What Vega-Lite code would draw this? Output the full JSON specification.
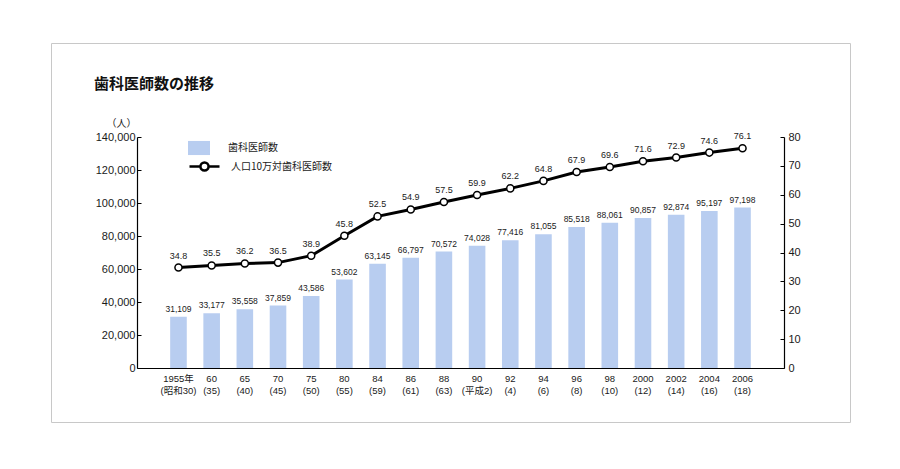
{
  "$schema": "https://vega.github.io/schema/vega-lite/v6.json",
  "width": 799,
  "height": 379,
  "autosize": {"type": "none"},
  "padding": {"left": 51, "top": 43, "right": 50, "bottom": 47},
  "background": "white",
  "config": {
    "view": {"stroke": "#c8c8c8", "strokeWidth": 1},
    "font": "Liberation Sans, Noto Sans CJK JP, sans-serif",
    "axis": {"labelColor": "#1a1a1a", "domainColor": "#000", "tickColor": "#000", "grid": false}
  },
  "title": {
    "text": "歯科医師数の推移",
    "anchor": "start",
    "frame": "group",
    "font": "Noto Sans CJK JP",
    "fontSize": 15,
    "fontWeight": "bold",
    "color": "#111",
    "baseline": "alphabetic",
    "offset": 0,
    "dx": 43,
    "dy": 61
  },
  "data": {
    "values": [
      {"label": "1955年|(昭和30)", "dentists": 31109, "rate": 34.8},
      {"label": "60|(35)", "dentists": 33177, "rate": 35.5},
      {"label": "65|(40)", "dentists": 35558, "rate": 36.2},
      {"label": "70|(45)", "dentists": 37859, "rate": 36.5},
      {"label": "75|(50)", "dentists": 43586, "rate": 38.9},
      {"label": "80|(55)", "dentists": 53602, "rate": 45.8},
      {"label": "84|(59)", "dentists": 63145, "rate": 52.5},
      {"label": "86|(61)", "dentists": 66797, "rate": 54.9},
      {"label": "88|(63)", "dentists": 70572, "rate": 57.5},
      {"label": "90|(平成2)", "dentists": 74028, "rate": 59.9},
      {"label": "92|(4)", "dentists": 77416, "rate": 62.2},
      {"label": "94|(6)", "dentists": 81055, "rate": 64.8},
      {"label": "96|(8)", "dentists": 85518, "rate": 67.9},
      {"label": "98|(10)", "dentists": 88061, "rate": 69.6},
      {"label": "2000|(12)", "dentists": 90857, "rate": 71.6},
      {"label": "2002|(14)", "dentists": 92874, "rate": 72.9},
      {"label": "2004|(16)", "dentists": 95197, "rate": 74.6},
      {"label": "2006|(18)", "dentists": 97198, "rate": 76.1}
    ]
  },
  "encoding": {
    "x": {
      "field": "label", "type": "nominal", "sort": null, "title": null,
      "scale": {"range": [86, 733], "paddingInner": 0.5, "paddingOuter": 1.05},
      "axis": {
        "orient": "bottom", "offset": -54, "ticks": false, "labelAngle": 0,
        "labelFontSize": 9.5, "labelPadding": 5, "labelLineHeight": 12,
        "labelExpr": "split(datum.value, '|')", "domainWidth": 1.2
      }
    }
  },
  "layer": [
    {
      "mark": {"type": "bar"},
      "encoding": {
        "y": {
          "field": "dentists", "type": "quantitative",
          "scale": {"domain": [0, 140000], "range": [325, 94], "nice": false},
          "axis": {
            "orient": "left", "offset": -86, "values": [0, 20000, 40000, 60000, 80000, 100000, 120000, 140000],
            "format": ",d", "tickSize": -4, "labelFontSize": 11, "labelPadding": 6, "domainWidth": 1.2,
            "title": "（人）", "titleAngle": 0, "titleX": -16, "titleY": 80, "titleAlign": "center",
            "titleBaseline": "middle", "titleFontSize": 10, "titleFontWeight": "normal", "titleColor": "#1a1a1a",
            "titleFont": "Noto Sans CJK JP"
          }
        },
        "fill": {
          "datum": "歯科医師数", "type": "nominal",
          "scale": {"range": ["#b8cdf0"]},
          "legend": {
            "orient": "none", "legendX": 137, "legendY": 94, "title": null, "padding": 0,
            "symbolType": "M-1,-0.64H1V0.64H-1Z", "symbolSize": 484, "symbolStrokeWidth": 0,
            "labelFontSize": 10, "labelOffset": 18, "labelFont": "Noto Sans CJK JP", "labelColor": "#1a1a1a"
          }
        }
      }
    },
    {
      "mark": {"type": "text", "baseline": "bottom", "dy": -3, "fontSize": 8.5, "color": "#1a1a1a"},
      "encoding": {
        "y": {"field": "dentists", "type": "quantitative", "scale": {"domain": [0, 140000], "range": [325, 94], "nice": false}, "axis": null},
        "text": {"field": "dentists", "type": "quantitative", "format": ",d"}
      }
    },
    {
      "mark": {
        "type": "line", "strokeWidth": 3, "color": "#000",
        "point": {"filled": true, "fill": "white", "stroke": "#000", "strokeWidth": 1.5, "size": 50}
      },
      "encoding": {
        "y": {
          "field": "rate", "type": "quantitative",
          "scale": {"domain": [0, 80], "range": [325, 94], "nice": false},
          "axis": {
            "orient": "right", "offset": -66, "values": [0, 10, 20, 30, 40, 50, 60, 70, 80],
            "tickSize": -4, "labelFontSize": 11, "labelPadding": 8, "domainWidth": 1.2, "title": null
          }
        },
        "stroke": {
          "datum": "人口10万対歯科医師数", "type": "nominal",
          "scale": {"range": ["#000"]},
          "legend": {
            "orient": "none", "legendX": 137, "legendY": 107, "title": null, "padding": 0,
            "symbolType": "M-1,0H-0.27M0.27,0H1M0.27,0A0.27,0.27,0,1,1,-0.27,0A0.27,0.27,0,1,1,0.27,0Z",
            "symbolSize": 900, "symbolStrokeWidth": 2.5, "symbolFillColor": "white", "symbolStrokeColor": "#000",
            "labelFontSize": 10, "labelOffset": 10, "labelFont": "Noto Sans CJK JP", "labelColor": "#1a1a1a"
          }
        }
      }
    },
    {
      "mark": {"type": "text", "baseline": "bottom", "dy": -7, "fontSize": 9, "color": "#1a1a1a"},
      "encoding": {
        "y": {"field": "rate", "type": "quantitative", "scale": {"domain": [0, 80], "range": [325, 94], "nice": false}, "axis": null},
        "text": {"field": "rate", "type": "quantitative", "format": ".1f"}
      }
    }
  ],
  "resolve": {"scale": {"y": "independent", "fill": "independent", "stroke": "independent"}}
}
